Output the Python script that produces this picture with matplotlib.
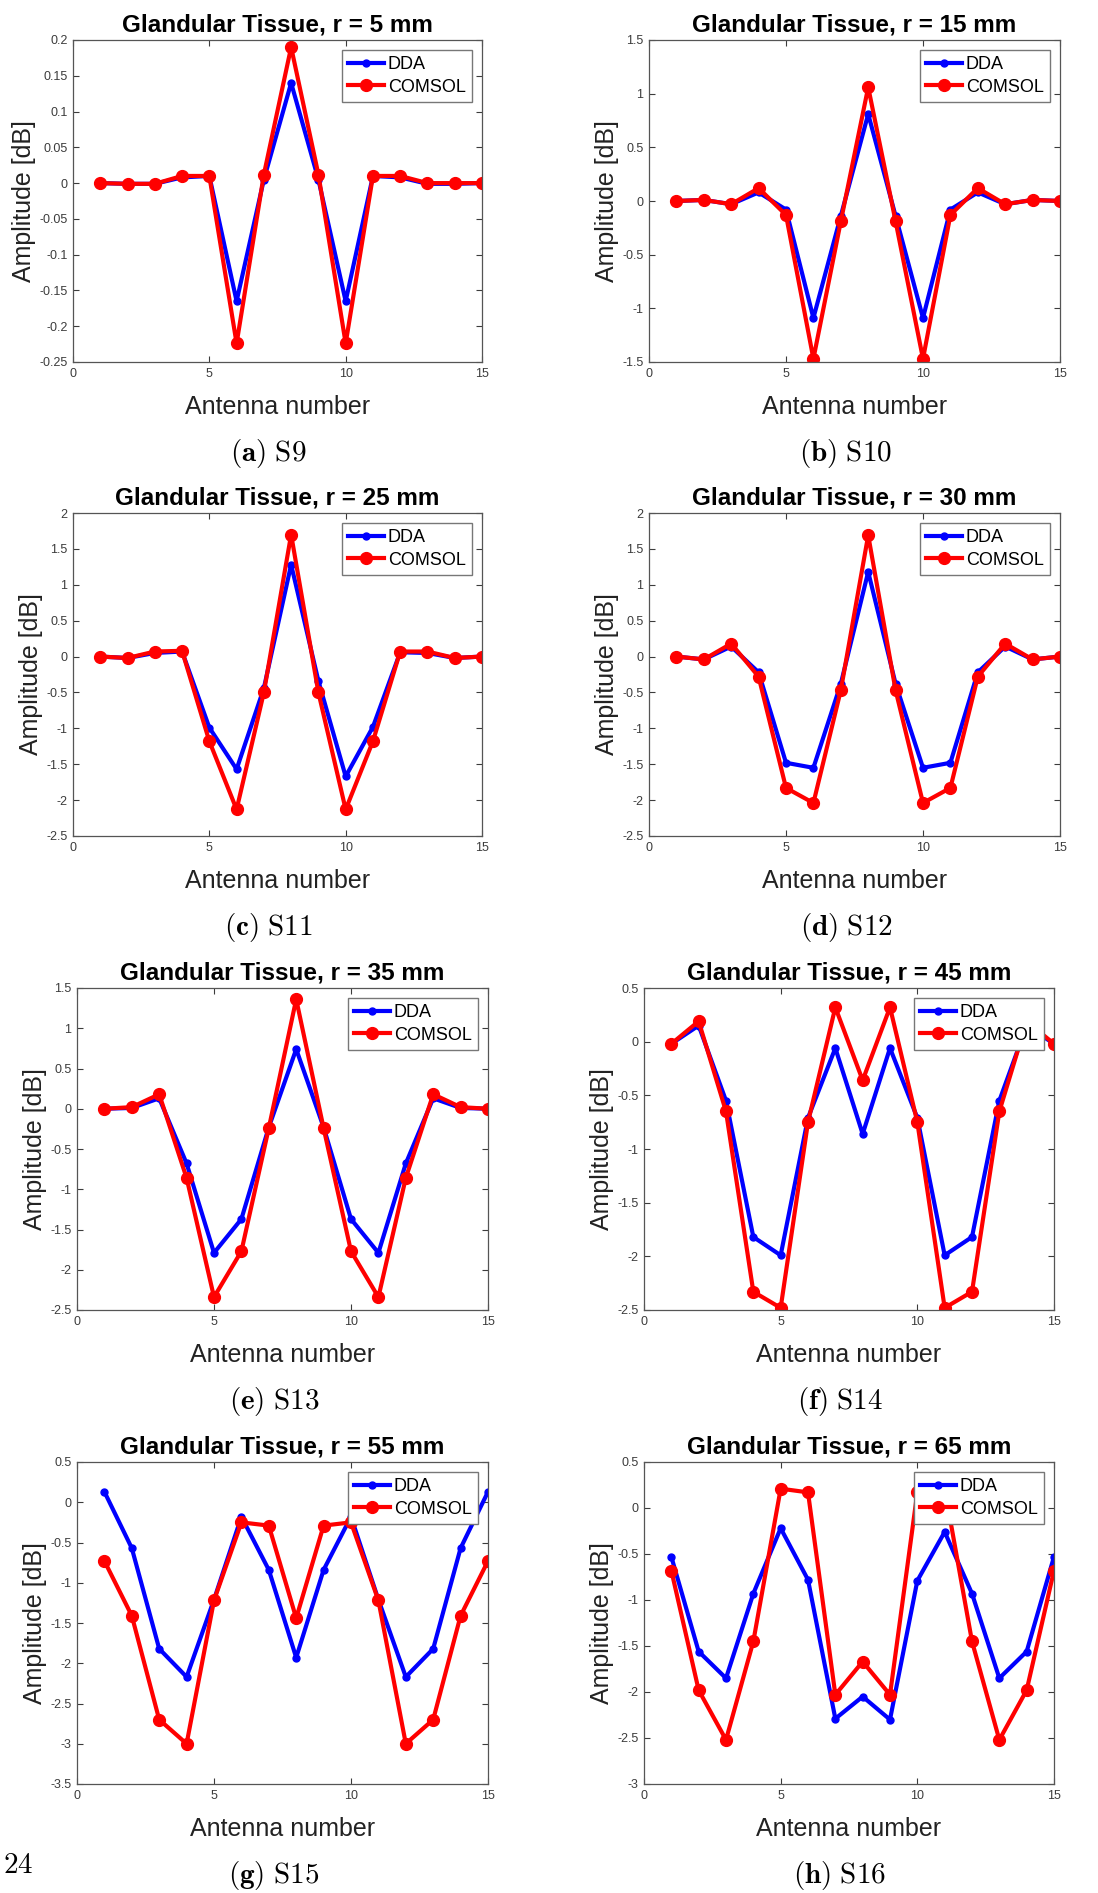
import matplotlib
matplotlib.use("Agg")
import matplotlib.pyplot as plt
from matplotlib.ticker import MultipleLocator, FuncFormatter

plt.rcParams['font.family'] = ['Liberation Sans', 'DejaVu Sans']
plt.rcParams['mathtext.fontset'] = 'cm'

# ---- data ----
antenna = list(range(1, 16))

radii = [5, 15, 25, 30, 35, 45, 55, 65]
captions = ['a', 'b', 'c', 'd', 'e', 'f', 'g', 'h']
s_names = ['S9', 'S10', 'S11', 'S12', 'S13', 'S14', 'S15', 'S16']

dda_5 = [0, -0.001, -0.001, 0.008, 0.01, -0.165, 0.005, 0.14,
         0.005, -0.165, 0.01, 0.008, -0.001, -0.001, 0]
comsol_5 = [0, -0.001, -0.001, 0.01, 0.01, -0.224, 0.012, 0.19,
            0.012, -0.224, 0.01, 0.01, 0, 0, 0]

dda_15 = [0, 0.01, -0.03, 0.08, -0.08, -1.09, -0.14, 0.81,
          -0.14, -1.09, -0.08, 0.08, -0.03, 0.01, 0]
comsol_15 = [0, 0.01, -0.03, 0.12, -0.13, -1.47, -0.19, 1.06,
             -0.19, -1.47, -0.13, 0.12, -0.03, 0.01, 0]

dda_25 = [0, -0.02, 0.05, 0.07, -0.99, -1.57, -0.44, 1.28,
          -0.34, -1.67, -0.98, 0.06, 0.05, -0.02, 0]
comsol_25 = [0, -0.02, 0.07, 0.08, -1.18, -2.13, -0.5, 1.7,
             -0.5, -2.13, -1.18, 0.07, 0.07, -0.02, 0]

dda_30 = [0, -0.04, 0.14, -0.22, -1.48, -1.55, -0.38, 1.18,
          -0.38, -1.55, -1.48, -0.22, 0.14, -0.04, 0]
comsol_30 = [0, -0.04, 0.18, -0.28, -1.83, -2.04, -0.47, 1.69,
             -0.47, -2.04, -1.83, -0.28, 0.18, -0.04, 0]

dda_35 = [0, 0.01, 0.13, -0.68, -1.79, -1.37, -0.23, 0.74,
          -0.23, -1.37, -1.79, -0.68, 0.13, 0.01, 0]
comsol_35 = [0, 0.02, 0.18, -0.86, -2.34, -1.77, -0.24, 1.36,
             -0.24, -1.77, -2.34, -0.86, 0.18, 0.02, 0]

dda_45 = [-0.02, 0.15, -0.55, -1.82, -1.99, -0.71, -0.06, -0.86,
          -0.06, -0.71, -1.99, -1.82, -0.55, 0.15, -0.02]
comsol_45 = [-0.02, 0.19, -0.65, -2.33, -2.48, -0.75, 0.32, -0.36,
             0.32, -0.75, -2.48, -2.33, -0.65, 0.19, -0.02]

dda_55 = [0.13, -0.57, -1.82, -2.17, -1.21, -0.18, -0.84, -1.93,
          -0.84, -0.18, -1.21, -2.17, -1.82, -0.57, 0.13]
comsol_55 = [-0.73, -1.41, -2.7, -3.0, -1.22, -0.25, -0.29, -1.44,
             -0.29, -0.25, -1.22, -3.0, -2.7, -1.41, -0.73]

dda_65 = [-0.53, -1.56, -1.85, -0.93, -0.22, -0.78, -2.29, -2.05,
          -2.3, -0.79, -0.26, -0.93, -1.85, -1.56, -0.53]
comsol_65 = [-0.68, -1.98, -2.52, -1.45, 0.21, 0.17, -2.03, -1.67,
             -2.03, 0.17, 0.21, -1.45, -2.52, -1.98, -0.68]

dda_all = [dda_5, dda_15, dda_25, dda_30, dda_35, dda_45, dda_55, dda_65]
comsol_all = [comsol_5, comsol_15, comsol_25, comsol_30,
              comsol_35, comsol_45, comsol_55, comsol_65]

y_limits = [(-0.25, 0.2), (-1.5, 1.5), (-2.5, 2), (-2.5, 2),
            (-2.5, 1.5), (-2.5, 0.5), (-3.5, 0.5), (-3, 0.5)]
y_steps = [0.05, 0.5, 0.5, 0.5, 0.5, 0.5, 0.5, 0.5]

# ---- layout (pixels) ----
W, H = 1098, 1893
# left, top, right, bottom of each axes box
boxes = [(73, 40, 482, 362), (649, 40, 1060, 362),
         (73, 513, 482, 836), (649, 513, 1060, 836),
         (77, 988, 488, 1310), (644, 988, 1054, 1310),
         (77, 1462, 488, 1784), (644, 1462, 1054, 1784)]
caption_pos = [(268, 453), (846, 453), (268, 927), (846, 927),
               (274, 1402), (840, 1402), (274, 1875), (840, 1875)]

fig = plt.figure(figsize=(W / 100, H / 100), dpi=100)

tick_gray = '#3c3c3c'

for i in range(8):
    l, t, r, b = boxes[i]
    ax = fig.add_axes([l / W, 1 - b / H, (r - l) / W, (b - t) / H])

    ax.plot(antenna, dda_all[i], color='blue', linewidth=3, marker='o',
            markersize=5, label='DDA')
    ax.plot(antenna, comsol_all[i], color='red', linewidth=3, marker='o',
            markersize=8.5, label='COMSOL')

    ax.set_xlim(0, 15)
    ax.set_ylim(*y_limits[i])
    ax.xaxis.set_major_locator(MultipleLocator(5))
    ax.yaxis.set_major_locator(MultipleLocator(y_steps[i]))
    ax.yaxis.set_major_formatter(FuncFormatter(lambda v, p: '%g' % round(v, 4)))
    ax.xaxis.set_major_formatter(FuncFormatter(lambda v, p: '%g' % v))

    ax.tick_params(direction='in', length=4, width=0.8, colors=tick_gray,
                   labelsize=9, top=True, right=True, pad=4)
    for sp in ax.spines.values():
        sp.set_color('#555555')
        sp.set_linewidth(0.9)

    ax.set_title(f'Glandular Tissue, r = {radii[i]} mm', fontsize=17.5,
                 fontweight='bold', pad=6)
    ax.set_xlabel('Antenna number', fontsize=18, color='#222222', labelpad=11)
    ax.set_ylabel('Amplitude [dB]', fontsize=18, color='#222222', labelpad=2)

    leg = ax.legend(loc='upper right', fontsize=13, frameon=True,
                    fancybox=False, framealpha=1, edgecolor='#777777',
                    handlelength=2.0, handletextpad=0.2, borderpad=0.35,
                    labelspacing=0.3, borderaxespad=0.55, numpoints=1)
    leg.get_frame().set_linewidth(1.0)

    cx, cy = caption_pos[i]
    fig.text(cx / W, 1 - cy / H,
             r'$\mathbf{(%s)}$ $\mathrm{%s}$' % (captions[i], s_names[i]),
             fontsize=21, ha='center', va='center')

fig.text(18 / W, 1 - 1865 / H, r'$\mathrm{24}$', fontsize=21,
         ha='center', va='center')

fig.savefig('out.png', dpi=100)
